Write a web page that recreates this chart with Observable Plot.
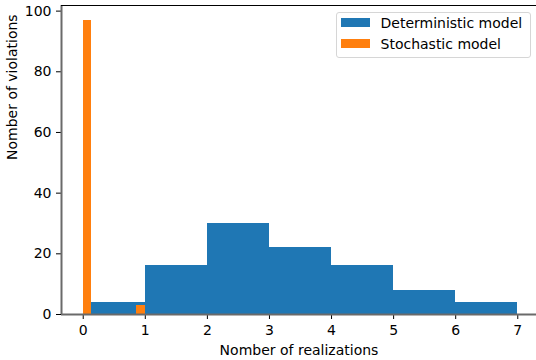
<!DOCTYPE html>
<html>
<head>
<meta charset="utf-8">
<script src="https://cdn.jsdelivr.net/npm/d3@7"></script>
<script src="https://cdn.jsdelivr.net/npm/@observablehq/plot@0.6"></script>
<style>
  body { margin: 0; background: #fff; }
  #chart { position: relative; width: 536px; height: 360px; overflow: hidden; font-family: "DejaVu Sans", sans-serif; }
  #chart svg { display: block; }
  .legend { position: absolute; left: 336px; top: 12px; width: 195px; height: 46px; border: 1px solid #d6d6d6; border-radius: 3px; background: rgba(255,255,255,0.85); box-sizing: border-box; }
  .legend .sw { position: absolute; left: 4px; width: 29px; height: 9px; }
  .legend .lb { position: absolute; left: 43.5px; font-size: 14px; color: #000; line-height: 14px; white-space: nowrap; }
</style>
</head>
<body>
<div id="chart"></div>
<script>
// Histogram bins: left edge, right edge and count of violations per bin
const detLeft   = [0.14, 1, 2, 3, 4, 5, 6];
const detRight  = [1, 2, 3, 4, 5, 6, 7];
const detCounts = [4, 16, 30, 22, 16, 8, 4];

const stoLeft   = [0, 0.86];
const stoRight  = [0.14, 1];
const stoCounts = [97, 3];

const seriesNames = ["Deterministic model", "Stochastic model"];
const seriesColors = ["#1f77b4", "#ff7f0e"];

const xTicks = [0, 1, 2, 3, 4, 5, 6, 7];
const yTicks = [0, 20, 40, 60, 80, 100];

const xDomain = [-0.35, 7.35];
const yDomain = [0, 101.85];

const det = detCounts.map((c, i) => ({x1: detLeft[i], x2: detRight[i], y: c}));
const sto = stoCounts.map((c, i) => ({x1: stoLeft[i], x2: stoRight[i], y: c}));

const plot = Plot.plot({
  width: 536,
  height: 360,
  marginLeft: 61,
  marginTop: 5,
  marginRight: 0,
  marginBottom: 46,
  style: { fontFamily: "DejaVu Sans, sans-serif", fontSize: "14px", color: "#000", background: "#fff" },
  x: { domain: xDomain, range: [61, 539], ticks: xTicks, tickSize: 5, tickPadding: 6, tickFormat: d => String(d), label: null },
  y: { domain: yDomain, ticks: yTicks, tickSize: 5, tickPadding: 5, tickFormat: d => String(d), label: null },
  marks: [
    Plot.rectY(det, { x1: "x1", x2: "x2", y: "y", fill: seriesColors[0], shapeRendering: "crispEdges" }),
    Plot.rectY(sto, { x1: "x1", x2: "x2", y: "y", fill: seriesColors[1], shapeRendering: "crispEdges" }),
    Plot.ruleX([xDomain[0]], { stroke: "#6a6a6a", strokeWidth: 2 }),
    Plot.ruleY([0], { stroke: "#6a6a6a", strokeWidth: 2 }),
    Plot.ruleY([yDomain[1]], { stroke: "#000", strokeWidth: 1.2 }),
    Plot.text(["Nomber of realizations"], { frameAnchor: "bottom", lineAnchor: "middle", dy: 36.5, fontSize: 14, fill: "#000" }),
    Plot.text(["Nomber of violations"], { frameAnchor: "left", lineAnchor: "middle", dx: -49, rotate: -90, fontSize: 14, fill: "#000" })
  ]
});

const chart = document.getElementById("chart");
chart.appendChild(plot);

// Legend box in the upper right of the plot area
const legend = document.createElement("div");
legend.className = "legend";
seriesNames.forEach((name, i) => {
  const sw = document.createElement("div");
  sw.className = "sw";
  sw.style.top = (5.3 + i * 21) + "px";
  sw.style.background = seriesColors[i];
  const lb = document.createElement("div");
  lb.className = "lb";
  lb.style.top = (2.6 + i * 21) + "px";
  lb.textContent = name;
  legend.appendChild(sw);
  legend.appendChild(lb);
});
chart.appendChild(legend);
</script>
</body>
</html>
